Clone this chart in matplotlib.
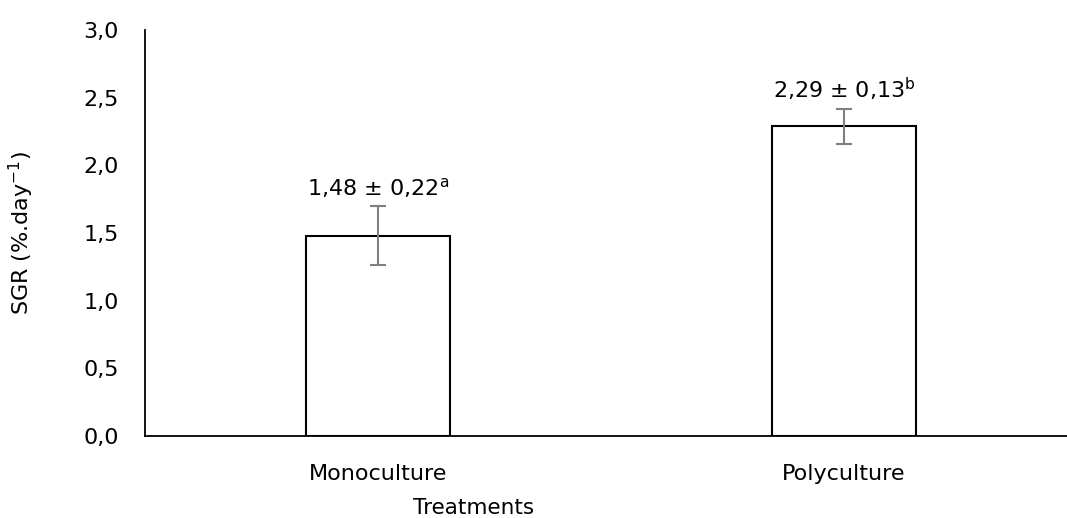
import matplotlib.pyplot as plt
from matplotlib.ticker import FuncFormatter, MultipleLocator

treatments = ["Monoculture", "Polyculture"]
sgr_mean = [1.48, 2.29]
sgr_sd = [0.22, 0.13]
letters = ["a", "b"]

plt.rcParams["font.family"] = ["DejaVu Sans"]


def comma(v, _pos=None):
    return f"{v:.1f}".replace(".", ",")


fig = plt.figure(figsize=(10.67, 5.18), dpi=100)
ax = fig.add_axes([0.1359, 0.1583, 0.8735, 0.7837])

x = range(len(treatments))
ax.bar(x, sgr_mean, width=0.31, color="white", edgecolor="black", linewidth=1.5, zorder=2)
ax.errorbar(x, sgr_mean, yerr=sgr_sd, fmt="none", ecolor="#7f7f7f", elinewidth=1.5,
            capsize=6, capthick=1.5, zorder=3)

for xi, m, s, letter in zip(x, sgr_mean, sgr_sd, letters):
    label = f"{m:.2f} ± {s:.2f}".replace(".", ",")
    ax.annotate(label + r"$^{\mathregular{" + letter + "}}$", (xi, m + s),
                xytext=(0, 7.5), textcoords="offset points", ha="center", va="baseline",
                fontsize=16)

ax.set_xlim(-0.5, 1.5)
ax.set_ylim(0, 3.0)
ax.yaxis.set_major_locator(MultipleLocator(0.5))
ax.yaxis.set_major_formatter(FuncFormatter(comma))
ax.set_xticks(list(x))
ax.set_xticklabels(treatments)
ax.tick_params(axis="both", length=0, labelsize=16)
ax.tick_params(axis="y", pad=19)
ax.tick_params(axis="x", pad=20)

for side in ("top", "right"):
    ax.spines[side].set_visible(False)
for side in ("left", "bottom"):
    ax.spines[side].set_linewidth(1.3)

ax.set_ylabel("SGR (%.day$^{\\mathregular{-1}}$)", fontsize=16)
ax.yaxis.set_label_coords(-0.117, 0.5)
ax.set_xlabel("Treatments", fontsize=15.5)
ax.xaxis.set_label_coords(0.353, -0.152)

fig.savefig("out.png", dpi=100)
